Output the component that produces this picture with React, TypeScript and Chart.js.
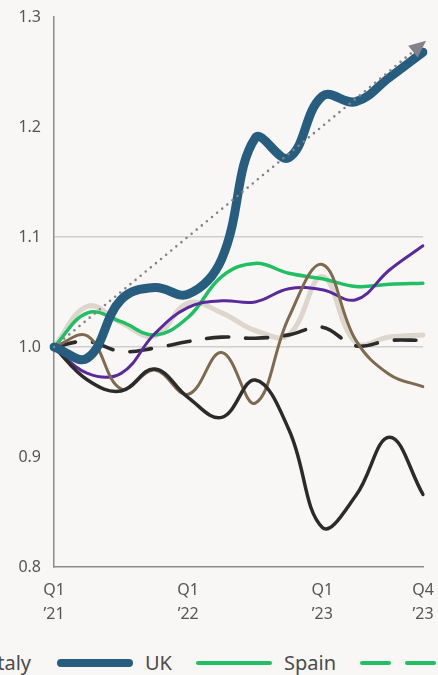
import React, { useEffect, useRef } from "react";
import { Chart, registerables } from "chart.js";

Chart.register(...registerables);

// Quarterly index values, Q1 2021 = 1.0
const quarters = [
  "Q1 ’21", "Q2 ’21", "Q3 ’21", "Q4 ’21",
  "Q1 ’22", "Q2 ’22", "Q3 ’22", "Q4 ’22",
  "Q1 ’23", "Q2 ’23", "Q3 ’23", "Q4 ’23",
];
const labelledQuarters = [0, 4, 8, 11];
const gridValues = [1.0, 1.1];

const uk = [1.0, 0.99, 1.043, 1.054, 1.048, 1.08, 1.19, 1.172, 1.228, 1.223, 1.245, 1.268];
const germany = [1.0, 0.97, 0.96, 0.98, 0.954, 0.936, 0.97, 0.925, 0.836, 0.865, 0.918, 0.866];
const italy = [1.0, 1.01, 0.962, 0.979, 0.957, 0.995, 0.949, 1.027, 1.075, 1.006, 0.975, 0.964];
const france = [1.0, 0.976, 0.976, 1.012, 1.036, 1.042, 1.041, 1.053, 1.052, 1.043, 1.07, 1.092];
const spain = [1.0, 1.031, 1.023, 1.011, 1.027, 1.064, 1.076, 1.067, 1.062, 1.055, 1.057, 1.058];
const netherlands = [1.0, 1.037, 1.022, 1.01, 1.04, 1.031, 1.015, 1.011, 1.064, 1.004, 1.009, 1.011];
const euroArea = [1.0, 1.005, 0.996, 0.999, 1.005, 1.009, 1.008, 1.011, 1.018, 1.001, 1.006, 1.006];
// UK trend: start and end of the straight arrow
const ukTrend: (number | null)[] = [1.0, null, null, null, null, null, null, null, null, null, null, 1.276];

const COLORS = {
  uk: "#275e80",
  germany: "#2b2b2b",
  italy: "#7e6a4e",
  france: "#5a2a9c",
  spain: "#21bf63",
  netherlands: "#ddd6cc",
  euroArea: "#2b2b2b",
  trend: "#86828a",
  portugal: "#21bf63",
};

const FONT = '"Noto Sans", "Open Sans", sans-serif';

const arrowHead = {
  id: "arrowHead",
  afterDatasetsDraw(chart: any) {
    const idx = chart.data.datasets.findIndex((d: any) => d.label === "UK trend");
    if (idx < 0) return;
    const meta = chart.getDatasetMeta(idx);
    const pts = meta.data.filter((_: any, i: number) => ukTrend[i] != null);
    const a = pts[0];
    const b = pts[pts.length - 1];
    const ang = Math.atan2(b.y - a.y, b.x - a.x);
    const c = Math.cos(ang);
    const s = Math.sin(ang);
    const tipX = b.x + 4 * c;
    const tipY = b.y + 4 * s;
    const len = 17;
    const half = 7.5;
    const ctx = chart.ctx;
    ctx.save();
    ctx.fillStyle = COLORS.trend;
    ctx.beginPath();
    ctx.moveTo(tipX, tipY);
    ctx.lineTo(tipX - len * c + half * s, tipY - len * s - half * c);
    ctx.lineTo(tipX - len * c - half * s, tipY - len * s + half * c);
    ctx.closePath();
    ctx.fill();
    ctx.restore();
  },
};

function line(label: string, data: (number | null)[], color: string, width: number, order: number, extra: any = {}) {
  return {
    label,
    data,
    borderColor: color,
    backgroundColor: color,
    borderWidth: width,
    pointRadius: 0,
    pointHoverRadius: 0,
    tension: 0.4,
    fill: false,
    borderCapStyle: "round",
    borderJoinStyle: "round",
    order,
    ...extra,
  };
}

type LegendEntry = { label: string; color: string; width: number; dashed?: boolean };

const legendLeft: LegendEntry[] = [
  { label: "Germany", color: COLORS.germany, width: 4 },
  { label: "France", color: COLORS.france, width: 4 },
  { label: "Italy", color: COLORS.italy, width: 4 },
];
const legendRight: LegendEntry[] = [
  { label: "UK", color: COLORS.uk, width: 8 },
  { label: "Spain", color: COLORS.spain, width: 4 },
  { label: "Portugal", color: COLORS.portugal, width: 4, dashed: true },
];

function Sample({ e }: { e: LegendEntry }) {
  if (e.dashed) {
    return (
      <span style={{ display: "flex", width: 76, justifyContent: "space-between", marginRight: 12 }}>
        <span style={{ width: 31, height: e.width, borderRadius: e.width, background: e.color }} />
        <span style={{ width: 31, height: e.width, borderRadius: e.width, background: e.color }} />
      </span>
    );
  }
  return (
    <span
      style={{
        display: "block",
        width: 76,
        height: e.width,
        borderRadius: e.width,
        background: e.color,
        marginRight: 12,
      }}
    />
  );
}

function LegendRow({ items, style }: { items: LegendEntry[]; style: React.CSSProperties }) {
  return (
    <div style={{ position: "absolute", top: 0, height: 26, display: "flex", alignItems: "center", whiteSpace: "nowrap", ...style }}>
      {items.map((e, i) => (
        <span key={e.label} style={{ display: "flex", alignItems: "center", marginRight: i < items.length - 1 ? 24 : 0 }}>
          <Sample e={e} />
          <span style={{ fontSize: 20, color: "#4a4a4a", lineHeight: "26px" }}>{e.label}</span>
        </span>
      ))}
    </div>
  );
}

export default function App() {
  const ref = useRef<HTMLCanvasElement>(null);

  useEffect(() => {
    if (!ref.current) return;
    const chart = new Chart(ref.current, {
      type: "line",
      data: {
        labels: quarters,
        datasets: [
          line("UK trend", ukTrend, COLORS.trend, 2.6, 0, {
            tension: 0,
            spanGaps: true,
            borderDash: [0, 6.6],
          }),
          line("UK", uk, COLORS.uk, 9, 1),
          line("Germany", germany, COLORS.germany, 3.5, 2),
          line("Italy", italy, COLORS.italy, 3, 3),
          line("France", france, COLORS.france, 3, 4),
          line("Spain", spain, COLORS.spain, 3.5, 5),
          line("Euro area", euroArea, COLORS.euroArea, 3.6, 6, { borderDash: [22, 17] }),
          line("Netherlands", netherlands, COLORS.netherlands, 5, 7),
        ] as any,
      },
      options: {
        animation: false,
        responsive: true,
        maintainAspectRatio: false,
        events: [],
        layout: { padding: { top: 17, right: 15, bottom: 0, left: 0 } },
        plugins: {
          legend: { display: false },
          tooltip: { enabled: false },
        },
        scales: {
          x: {
            type: "category",
            offset: false,
            grid: { display: false, drawTicks: false },
            border: { display: true, color: "#8c8c8c", width: 1.5 },
            afterFit: (scale: any) => {
              scale.height = 73;
              scale.paddingLeft = 0;
              scale.paddingRight = 0;
            },
            ticks: {
              autoSkip: false,
              maxRotation: 0,
              minRotation: 0,
              padding: 11,
              color: "#555555",
              font: { family: FONT, size: 16, lineHeight: 1.5 },
              callback: (_v: any, i: number) =>
                labelledQuarters.includes(i) ? quarters[i].split(" ") : "",
            },
          },
          y: {
            min: 0.8,
            max: 1.3,
            grid: {
              drawTicks: false,
              lineWidth: 1.5,
              color: (ctx: any) =>
                gridValues.some((g) => Math.abs(ctx.tick.value - g) < 1e-6) ? "#cfcfcf" : "rgba(0,0,0,0)",
            },
            border: { display: true, color: "#8c8c8c", width: 1.5 },
            afterFit: (scale: any) => {
              scale.width = 54;
              scale.paddingTop = 0;
              scale.paddingBottom = 0;
            },
            ticks: {
              stepSize: 0.1,
              padding: 13,
              color: "#555555",
              font: { family: FONT, size: 16 },
              callback: (v: any) => Number(v).toFixed(1),
            },
          },
        },
      },
      plugins: [arrowHead],
    });
    return () => chart.destroy();
  }, []);

  return (
    <div style={{ position: "fixed", inset: 0, background: "#f8f7f5", overflow: "hidden", fontFamily: FONT }}>
      <div style={{ position: "absolute", left: 0, top: 0, width: 438, height: 640 }}>
        <canvas ref={ref} />
      </div>
      <div style={{ position: "absolute", left: 0, top: 650, width: 438, height: 26, overflow: "hidden" }}>
        <LegendRow items={legendLeft} style={{ right: 438 - 31 }} />
        <LegendRow items={legendRight} style={{ left: 57 }} />
      </div>
    </div>
  );
}
